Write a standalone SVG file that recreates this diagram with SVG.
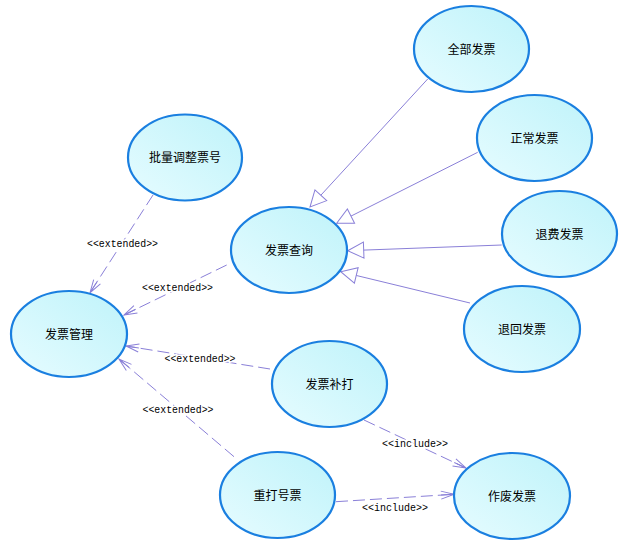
<svg xmlns="http://www.w3.org/2000/svg" width="624" height="545" viewBox="0 0 624 545">
<defs>
<linearGradient id="fillG" x1="0" y1="1" x2="1" y2="0">
<stop offset="0" stop-color="#e6fcff"/>
<stop offset="1" stop-color="#bff3fa"/>
</linearGradient>
<marker id="tri" markerUnits="userSpaceOnUse" viewBox="-1 -10 19 20" markerWidth="19" markerHeight="20" refX="16" refY="0" orient="auto">
<path d="M0,-8 L16,0 L0,8 Z" fill="#ffffff" stroke="#8a80d8" stroke-width="1"/>
</marker>
<marker id="vee" markerUnits="userSpaceOnUse" viewBox="-1 -6 15 12" markerWidth="15" markerHeight="12" refX="13" refY="0" orient="auto">
<path d="M0,-4 L13,0 L0,4 M0,0 L13,0" fill="none" stroke="#8a80d8" stroke-width="1"/>
</marker>
<style>
.uc ellipse{fill:url(#fillG);stroke:#1a7fe0;stroke-width:2.2}
.uc text{font-family:"Noto Sans CJK SC","Noto Sans",sans-serif;font-size:12px;fill:#000;text-anchor:middle}
.gen{stroke:#8a80d8;stroke-width:1;fill:none;marker-end:url(#tri)}
.dep{stroke:#8a80d8;stroke-width:1;fill:none;stroke-dasharray:12 5;marker-end:url(#vee)}
.lbl{font-family:"Liberation Mono",monospace;font-size:11px;fill:#000;text-anchor:middle;paint-order:stroke;stroke:#fff;stroke-width:3}
</style>
</defs>
<rect width="624" height="545" fill="#ffffff"/>
<g id="connectors">
<line class="gen" x1="427.7" y1="79" x2="310" y2="207"/>
<line class="gen" x1="477.7" y1="152.3" x2="336.7" y2="223.3"/>
<line class="gen" x1="501.7" y1="245" x2="347.7" y2="250.7"/>
<line class="gen" x1="470" y1="303" x2="340.7" y2="271.7"/>
<line class="dep" x1="153" y1="195" x2="90" y2="292.7"/>
<line class="dep" x1="226.7" y1="265" x2="124" y2="315"/>
<line class="dep" x1="270" y1="369" x2="126" y2="346"/>
<line class="dep" x1="234" y1="456.7" x2="119" y2="359"/>
<line class="dep" x1="364" y1="420" x2="466" y2="468"/>
<line class="dep" x1="336" y1="501.7" x2="454" y2="494.3"/>
<text class="lbl" x="122.5" y="247" textLength="71" lengthAdjust="spacingAndGlyphs">&lt;&lt;extended&gt;&gt;</text>
<text class="lbl" x="177.5" y="291" textLength="71" lengthAdjust="spacingAndGlyphs">&lt;&lt;extended&gt;&gt;</text>
<text class="lbl" x="200" y="362" textLength="71" lengthAdjust="spacingAndGlyphs">&lt;&lt;extended&gt;&gt;</text>
<text class="lbl" x="178" y="413" textLength="71" lengthAdjust="spacingAndGlyphs">&lt;&lt;extended&gt;&gt;</text>
<text class="lbl" x="415" y="447" textLength="66" lengthAdjust="spacingAndGlyphs">&lt;&lt;include&gt;&gt;</text>
<text class="lbl" x="395" y="511" textLength="66" lengthAdjust="spacingAndGlyphs">&lt;&lt;include&gt;&gt;</text>
</g>
<g id="n_batch" class="uc"><ellipse cx="185" cy="157.5" rx="57" ry="43"/><text x="185" y="162">批量调整票号</text></g>
<g id="n_query" class="uc"><ellipse cx="289" cy="250" rx="58" ry="43"/><text x="289" y="254.5">发票查询</text></g>
<g id="n_all" class="uc"><ellipse cx="471.5" cy="49" rx="57.5" ry="43"/><text x="471.5" y="53.5">全部发票</text></g>
<g id="n_normal" class="uc"><ellipse cx="534.5" cy="138" rx="57.5" ry="43"/><text x="534.5" y="142.5">正常发票</text></g>
<g id="n_refund" class="uc"><ellipse cx="559.5" cy="234" rx="57.5" ry="43"/><text x="559.5" y="238.5">退费发票</text></g>
<g id="n_return" class="uc"><ellipse cx="522" cy="329" rx="58" ry="43"/><text x="522" y="333.5">退回发票</text></g>
<g id="n_manage" class="uc"><ellipse cx="69" cy="334" rx="58" ry="43"/><text x="69" y="338.5">发票管理</text></g>
<g id="n_reprint" class="uc"><ellipse cx="329.5" cy="384" rx="57.5" ry="43"/><text x="329.5" y="388.5">发票补打</text></g>
<g id="n_renum" class="uc"><ellipse cx="277.5" cy="495" rx="57.5" ry="43"/><text x="277.5" y="499.5">重打号票</text></g>
<g id="n_void" class="uc"><ellipse cx="512" cy="496" rx="58" ry="43"/><text x="512" y="500.5">作废发票</text></g>
</svg>
